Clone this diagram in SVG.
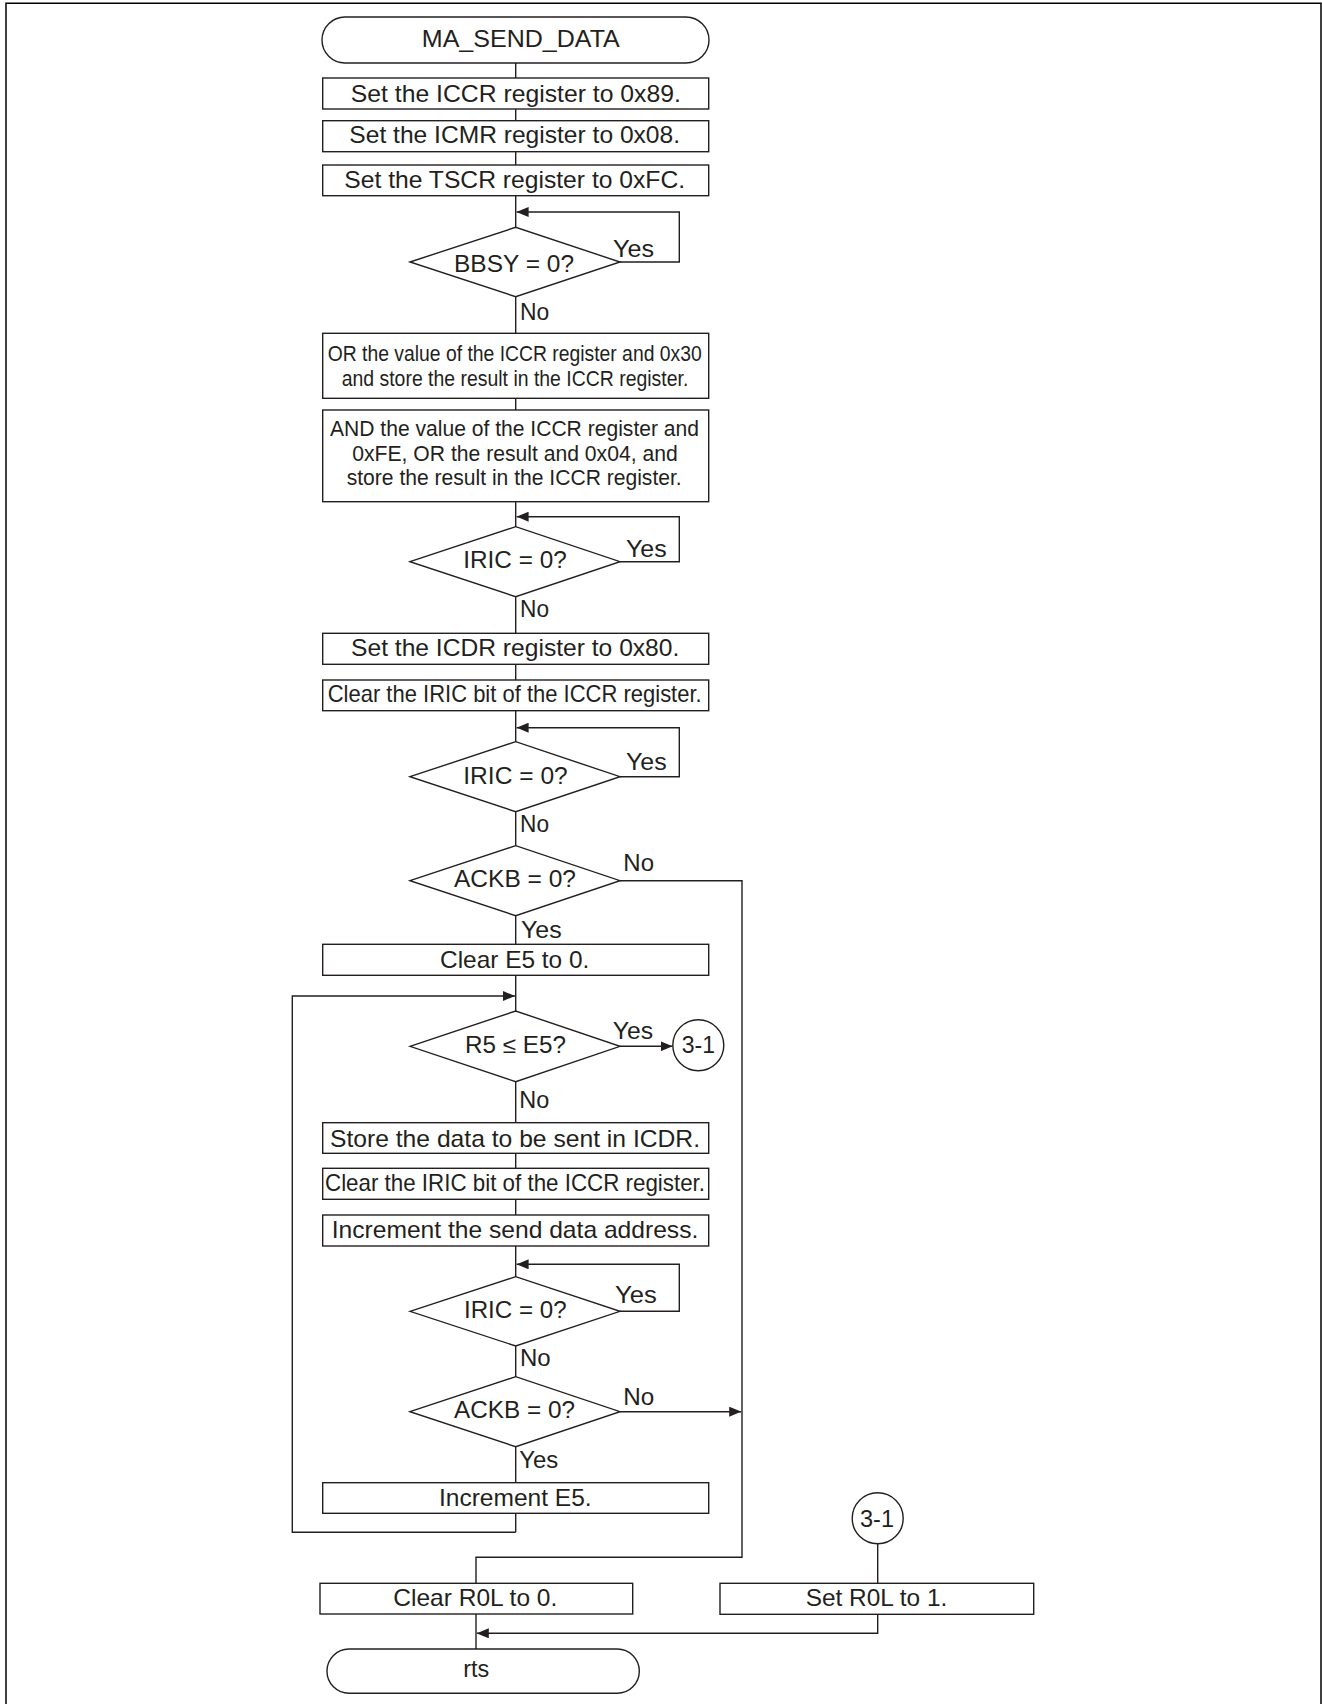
<svg xmlns="http://www.w3.org/2000/svg" width="1322" height="1704" viewBox="0 0 1322 1704">
  <style>
    .ln { fill: none; stroke: #231f20; stroke-width: 1.4; }
    .arr { marker-end: url(#ah); }
    .box { fill: #fff; stroke: #231f20; stroke-width: 1.4; }
    .frame { fill: none; stroke: #000; stroke-width: 1.5; }
    text { font-family: "Liberation Sans", Arial, Helvetica, sans-serif; fill: #231f20; }
    .t { font-size: 24px; text-anchor: middle; }
    .m { font-size: 21.5px; text-anchor: middle; }
    .d { font-size: 23px; text-anchor: middle; }
    .lb { font-size: 23px; }
  </style>
  <defs>
    <marker id="ah" viewBox="0 0 12 10" refX="12" refY="5" markerWidth="12" markerHeight="10" markerUnits="userSpaceOnUse" orient="auto">
      <path d="M0,0 L12,5 L0,10 z" fill="#231f20"/>
    </marker>
  </defs>
  <rect width="1322" height="1704" fill="#fff"/>

  <!-- page frame, open at the bottom -->
  <path class="frame" d="M6,1704 V3.3 H1321 V1704"/>

  <!-- connectors -->
  <g id="connectors">
    <path class="ln" d="M515.7,63 V1532.3"/>
    <!-- wait loops -->
    <path class="ln arr" d="M620,262 H679.3 V212 H516.6"/>
    <path class="ln arr" d="M620,561.7 H679.3 V516.7 H516.6"/>
    <path class="ln arr" d="M620,776.7 H679.3 V727.7 H516.6"/>
    <path class="ln arr" d="M620,1311.3 H679.3 V1264.3 H516.6"/>
    <!-- send loop back to E5 check -->
    <path class="ln arr" d="M515.7,1532.3 H292.3 V996 H514.9"/>
    <!-- NACK exits -->
    <path class="ln" d="M620,880.7 H742 V1557.3 H476 V1583.3"/>
    <path class="ln arr" d="M620,1411.7 H741.2"/>
    <!-- all data sent -->
    <path class="ln arr" d="M620,1046.3 H672.6"/>
    <path class="ln" d="M877.7,1543.8 V1583.3"/>
    <path class="ln arr" d="M877.7,1614.3 V1633.3 H476.8"/>
    <path class="ln" d="M476,1614 V1649"/>

    <!-- branch labels -->
    <text class="lb" x="613" y="256.7" textLength="41" lengthAdjust="spacingAndGlyphs">Yes</text>
    <text class="lb" x="520" y="320" textLength="29.3" lengthAdjust="spacingAndGlyphs">No</text>
    <text class="lb" x="626" y="556.7" textLength="40.7" lengthAdjust="spacingAndGlyphs">Yes</text>
    <text class="lb" x="520" y="616.7" textLength="29" lengthAdjust="spacingAndGlyphs">No</text>
    <text class="lb" x="626" y="770" textLength="40.7" lengthAdjust="spacingAndGlyphs">Yes</text>
    <text class="lb" x="520" y="831.7" textLength="29" lengthAdjust="spacingAndGlyphs">No</text>
    <text class="lb" x="623.3" y="870.7" textLength="30.7" lengthAdjust="spacingAndGlyphs">No</text>
    <text class="lb" x="521" y="938.3" textLength="40.7" lengthAdjust="spacingAndGlyphs">Yes</text>
    <text class="lb" x="612.7" y="1039.3" textLength="40.3" lengthAdjust="spacingAndGlyphs">Yes</text>
    <text class="lb" x="519.3" y="1108.3" textLength="30" lengthAdjust="spacingAndGlyphs">No</text>
    <text class="lb" x="615" y="1302.7" textLength="41.7" lengthAdjust="spacingAndGlyphs">Yes</text>
    <text class="lb" x="520" y="1366" textLength="30.7" lengthAdjust="spacingAndGlyphs">No</text>
    <text class="lb" x="623.3" y="1405" textLength="31" lengthAdjust="spacingAndGlyphs">No</text>
    <text class="lb" x="519.3" y="1468.3" textLength="39" lengthAdjust="spacingAndGlyphs">Yes</text>
  </g>

  <!-- nodes -->
  <g id="n-start">
    <rect class="box" x="322" y="17" width="387" height="46" rx="23"/>
    <text class="t" x="520.8" y="46.7" textLength="198" lengthAdjust="spacingAndGlyphs">MA_SEND_DATA</text>
  </g>
  <g id="n-iccr89">
    <rect class="box" x="322.7" y="78" width="386" height="31"/>
    <text class="t" x="515.8" y="101.7" textLength="330" lengthAdjust="spacingAndGlyphs">Set the ICCR register to 0x89.</text>
  </g>
  <g id="n-icmr08">
    <rect class="box" x="322.7" y="120.7" width="386" height="31"/>
    <text class="t" x="514.7" y="143.3" textLength="330.7" lengthAdjust="spacingAndGlyphs">Set the ICMR register to 0x08.</text>
  </g>
  <g id="n-tscr">
    <rect class="box" x="322.7" y="165" width="386" height="30.7"/>
    <text class="t" x="514.7" y="188.3" textLength="340.7" lengthAdjust="spacingAndGlyphs">Set the TSCR register to 0xFC.</text>
  </g>
  <g id="n-bbsy">
    <polygon class="box" points="410,262 515.7,227.3 620,262 515.7,296.7"/>
    <text class="d" x="514" y="271.7" textLength="120" lengthAdjust="spacingAndGlyphs">BBSY = 0?</text>
  </g>
  <g id="n-or30">
    <rect class="box" x="322.7" y="333.3" width="386" height="65"/>
    <text class="m" x="514.7" y="361" textLength="374" lengthAdjust="spacingAndGlyphs">OR the value of the ICCR register and 0x30</text>
    <text class="m" x="515" y="386" textLength="346.6" lengthAdjust="spacingAndGlyphs">and store the result in the ICCR register.</text>
  </g>
  <g id="n-andfe">
    <rect class="box" x="322.7" y="410" width="386" height="91.7"/>
    <text class="m" x="514.5" y="436" textLength="369" lengthAdjust="spacingAndGlyphs">AND the value of the ICCR register and</text>
    <text class="m" x="515" y="460.7" textLength="325.4" lengthAdjust="spacingAndGlyphs">0xFE, OR the result and 0x04, and</text>
    <text class="m" x="514.2" y="485.3" textLength="335" lengthAdjust="spacingAndGlyphs">store the result in the ICCR register.</text>
  </g>
  <g id="n-iric1">
    <polygon class="box" points="410,561.7 515.7,526.7 620,561.7 515.7,596.7"/>
    <text class="d" x="515" y="568.3" textLength="103.4" lengthAdjust="spacingAndGlyphs">IRIC = 0?</text>
  </g>
  <g id="n-icdr80">
    <rect class="box" x="322.7" y="633.3" width="386" height="31"/>
    <text class="t" x="515.2" y="656" textLength="328.3" lengthAdjust="spacingAndGlyphs">Set the ICDR register to 0x80.</text>
  </g>
  <g id="n-clr-iric1">
    <rect class="box" x="322.7" y="680" width="386" height="30.7"/>
    <text class="t" x="514.7" y="701.7" textLength="374" lengthAdjust="spacingAndGlyphs">Clear the IRIC bit of the ICCR register.</text>
  </g>
  <g id="n-iric2">
    <polygon class="box" points="410,776.7 515.7,741.7 620,776.7 515.7,811.7"/>
    <text class="d" x="515.5" y="784" textLength="104.4" lengthAdjust="spacingAndGlyphs">IRIC = 0?</text>
  </g>
  <g id="n-ackb1">
    <polygon class="box" points="410,880.7 515.7,845.7 620,880.7 515.7,915.7"/>
    <text class="d" x="515" y="887.3" textLength="122" lengthAdjust="spacingAndGlyphs">ACKB = 0?</text>
  </g>
  <g id="n-clr-e5">
    <rect class="box" x="322.7" y="944.3" width="386" height="31"/>
    <text class="t" x="514.7" y="967.7" textLength="149.3" lengthAdjust="spacingAndGlyphs">Clear E5 to 0.</text>
  </g>
  <g id="n-r5e5">
    <polygon class="box" points="410,1046.3 515.7,1011 620,1046.3 515.7,1081.7"/>
    <text class="d" x="515.5" y="1053.3" textLength="101" lengthAdjust="spacingAndGlyphs">R5 ≤ E5?</text>
  </g>
  <g id="n-conn-out">
    <circle class="box" cx="698.3" cy="1045.3" r="25.5"/>
    <text class="t" x="698.3" y="1053.3" textLength="33.3" lengthAdjust="spacingAndGlyphs">3-1</text>
  </g>
  <g id="n-store">
    <rect class="box" x="322.7" y="1122.7" width="386" height="30.6"/>
    <text class="t" x="515" y="1146.7" textLength="370" lengthAdjust="spacingAndGlyphs">Store the data to be sent in ICDR.</text>
  </g>
  <g id="n-clr-iric2">
    <rect class="box" x="322.7" y="1168.3" width="386" height="31"/>
    <text class="t" x="515" y="1190.7" textLength="380" lengthAdjust="spacingAndGlyphs">Clear the IRIC bit of the ICCR register.</text>
  </g>
  <g id="n-inc-addr">
    <rect class="box" x="322.7" y="1215" width="386" height="31"/>
    <text class="t" x="515" y="1238.3" textLength="366.6" lengthAdjust="spacingAndGlyphs">Increment the send data address.</text>
  </g>
  <g id="n-iric3">
    <polygon class="box" points="410,1311.3 515.7,1276.7 620,1311.3 515.7,1346"/>
    <text class="d" x="515.3" y="1318.3" textLength="102.7" lengthAdjust="spacingAndGlyphs">IRIC = 0?</text>
  </g>
  <g id="n-ackb2">
    <polygon class="box" points="410,1411.7 515.7,1376.7 620,1411.7 515.7,1446.7"/>
    <text class="d" x="514.5" y="1418.3" textLength="121" lengthAdjust="spacingAndGlyphs">ACKB = 0?</text>
  </g>
  <g id="n-inc-e5">
    <rect class="box" x="322.7" y="1482.7" width="386" height="30.6"/>
    <text class="t" x="515.3" y="1505.7" textLength="152.7" lengthAdjust="spacingAndGlyphs">Increment E5.</text>
  </g>
  <g id="n-conn-in">
    <circle class="box" cx="877.7" cy="1518.3" r="25.5"/>
    <text class="t" x="877" y="1527.3" textLength="34" lengthAdjust="spacingAndGlyphs">3-1</text>
  </g>
  <g id="n-clr-r0l">
    <rect class="box" x="320" y="1583.3" width="312.7" height="30.7"/>
    <text class="t" x="475.3" y="1605.7" textLength="164" lengthAdjust="spacingAndGlyphs">Clear R0L to 0.</text>
  </g>
  <g id="n-set-r0l">
    <rect class="box" x="720" y="1583.3" width="313.7" height="31"/>
    <text class="t" x="876.5" y="1605.7" textLength="141.6" lengthAdjust="spacingAndGlyphs">Set R0L to 1.</text>
  </g>
  <g id="n-rts">
    <rect class="box" x="327" y="1649" width="312.3" height="44.3" rx="22"/>
    <text class="t" x="476.3" y="1676.7" textLength="26" lengthAdjust="spacingAndGlyphs">rts</text>
  </g>
</svg>
